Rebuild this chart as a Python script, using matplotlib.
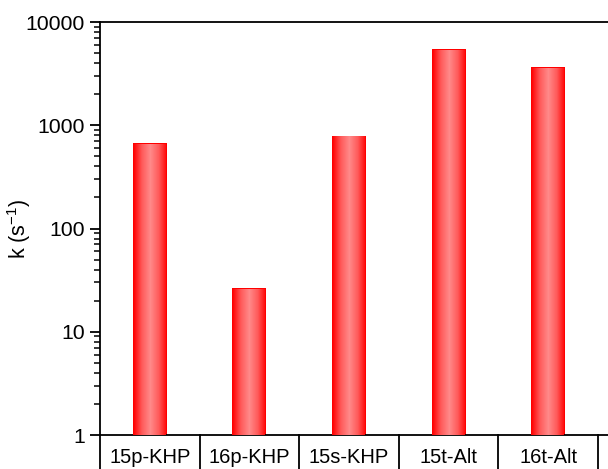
import matplotlib.pyplot as plt
import numpy as np
from matplotlib.colors import LinearSegmentedColormap
from matplotlib.patches import Rectangle

plt.rcParams['font.family'] = ['Liberation Sans', 'DejaVu Sans']
plt.rcParams['mathtext.fontset'] = 'custom'
plt.rcParams['mathtext.rm'] = 'Liberation Sans'
plt.rcParams['mathtext.it'] = 'Liberation Sans:italic'

# rate constants per species
categorias = ["15p-KHP", "16p-KHP", "15s-KHP", "15t-Alt", "16t-Alt"]
valores_k = [668, 26.5, 787, 5440, 3640]

ANCHO_BARRA = 0.34

# red -> pink -> red horizontal shading for the bars
degradado = LinearSegmentedColormap.from_list(
    "rojo", ["#ff0000", "#ff5a5a", "#ff8a8a", "#ff5a5a", "#ff0000"])

fig = plt.figure(figsize=(6.08, 4.69), dpi=100)
ax = fig.add_axes([100 / 608, 34 / 469, 520 / 608, 413 / 469])

x = np.arange(len(categorias))
barras = ax.bar(x, valores_k, width=ANCHO_BARRA, bottom=0, color="#ff0000",
                linewidth=0, zorder=2)

gradiente = np.linspace(0, 1, 256).reshape(1, -1)
for barra in barras:
    x0 = barra.get_x()
    x1 = x0 + barra.get_width()
    alto = barra.get_height()
    img = ax.imshow(gradiente, cmap=degradado, aspect="auto",
                    extent=(x0, x1, 1, alto), zorder=3, interpolation="bilinear")
    rect = Rectangle((x0, 1), x1 - x0, alto - 1, transform=ax.transData,
                     facecolor="none", edgecolor="none")
    ax.add_patch(rect)
    img.set_clip_path(rect)

ax.set_yscale("log")
ax.set_ylim(1, 10000)
ax.set_xlim(-0.5, 4.72)
ax.set_yticks([1, 10, 100, 1000, 10000])
ax.set_yticklabels(["1", "10", "100", "1000", "10000"])
ax.tick_params(axis="y", which="major", direction="out", length=7, width=1.3,
               labelsize=15.3, pad=4)
ax.tick_params(axis="y", which="minor", direction="out", length=4, width=1.1)
ax.set_ylabel("k (s$^{-1}$)", fontsize=15.5)
ax.yaxis.set_label_coords(-0.128, 0.5)

# categories go in boxes under the axis
ax.set_xticks([])
for i, nombre in enumerate(categorias):
    ax.text(i, -0.055, nombre, transform=ax.get_xaxis_transform(),
            ha="center", va="center", fontsize=14.5)
for borde in np.arange(-0.5, len(categorias), 1.0):
    ax.plot([borde, borde], [0, -0.12], transform=ax.get_xaxis_transform(),
            color="black", linewidth=1.3, clip_on=False)

for lado in ["left", "top", "bottom"]:
    ax.spines[lado].set_linewidth(1.3)
ax.spines["right"].set_visible(False)

fig.savefig("out.png", dpi=100)
